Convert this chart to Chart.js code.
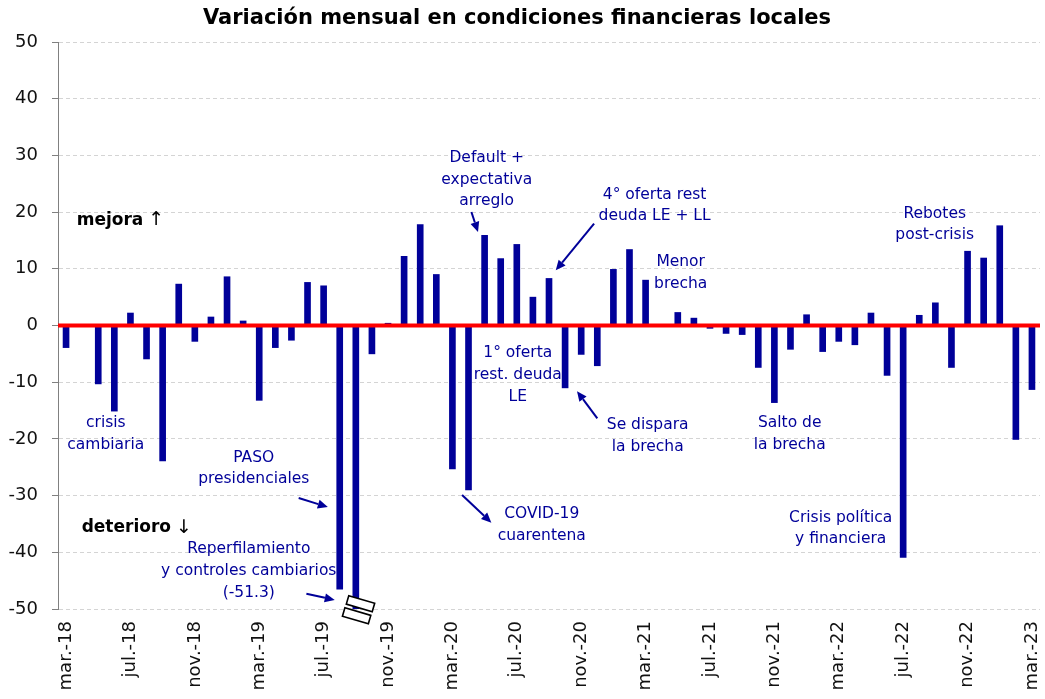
<!DOCTYPE html>
<html><head><meta charset="utf-8">
<script src="https://cdn.jsdelivr.net/npm/chart.js@4.4.0/dist/chart.umd.min.js"></script>
<style>html,body{margin:0;padding:0;background:#fff;}#wrap{width:1045px;height:699px;position:relative;}</style>
</head><body><div id="wrap"><canvas id="c"></canvas></div>
<script>
const months = [
 'mar.-18','abr.-18','may.-18','jun.-18','jul.-18','ago.-18','sep.-18','oct.-18','nov.-18','dic.-18',
 'ene.-19','feb.-19','mar.-19','abr.-19','may.-19','jun.-19','jul.-19','ago.-19','sep.-19','oct.-19','nov.-19','dic.-19',
 'ene.-20','feb.-20','mar.-20','abr.-20','may.-20','jun.-20','jul.-20','ago.-20','sep.-20','oct.-20','nov.-20','dic.-20',
 'ene.-21','feb.-21','mar.-21','abr.-21','may.-21','jun.-21','jul.-21','ago.-21','sep.-21','oct.-21','nov.-21','dic.-21',
 'ene.-22','feb.-22','mar.-22','abr.-22','may.-22','jun.-22','jul.-22','ago.-22','sep.-22','oct.-22','nov.-22','dic.-22',
 'ene.-23','feb.-23','mar.-23'
];
const values = [
 -3.9, 0, -10.3, -15.1, 2.2, -5.9, -23.9, 7.3, -2.8, 1.5,
 8.6, 0.8, -13.2, -3.9, -2.6, 7.6, 7.0, -46.5, -51.3, -5.0, 0.4, 12.2,
 17.8, 9.0, -25.3, -29.0, 15.9, 11.8, 14.3, 5.0, 8.3, -11.0, -5.1, -7.1,
 9.9, 13.4, 8.0, 0, 2.3, 1.3, -0.5, -1.4, -1.6, -7.4, -13.6, -4.2,
 1.9, -4.6, -2.8, -3.4, 2.2, -8.8, -40.9, 1.8, 4.0, -7.4, 13.1, 11.9,
 17.6, -20.1, -11.3
];
const yMin = -50, yMax = 50, yStep = 10;
const titleText = 'Variación mensual en condiciones financieras locales';

// annotation texts, anchored in (category index, value) units
const notes = [
  {lines:['crisis','cambiaria'], at:[2.47,-17.2]},
  {lines:['PASO','presidenciales'], at:[11.66,-23.3]},
  {lines:['Reperfilamiento','y controles cambiarios','(-51.3)'], at:[11.35,-39.5]},
  {lines:['Default +','expectativa','arreglo'], at:[26.13,29.5]},
  {lines:['4° oferta rest','deuda LE + LL'], at:[36.56,23.1]},
  {lines:['Menor','brecha'], at:[38.18,11.2]},
  {lines:['Rebotes','post-crisis'], at:[53.96,19.7]},
  {lines:['1° oferta','rest. deuda','LE'], at:[28.06,-4.93]},
  {lines:['Se dispara','la brecha'], at:[36.13,-17.57]},
  {lines:['COVID-19','cuarentena'], at:[29.55,-33.25]},
  {lines:['Salto de','la brecha'], at:[44.95,-17.27]},
  {lines:['Crisis política','y financiera'], at:[48.12,-33.9]}
];
const arrows = [
  {from:[14.45,-30.43], to:[16.26,-32.02]},
  {from:[14.93,-47.3], to:[16.69,-48.4]},
  {from:[25.18,20.02], to:[25.59,16.49]},
  {from:[32.8,17.97], to:[30.42,9.74]},
  {from:[33.0,-16.39], to:[31.74,-11.58]},
  {from:[24.6,-29.9], to:[26.42,-34.78]}
];
const sideLabels = [
  {bold:'mejora', arrow:'↑', at:[0.66,18.55]},
  {bold:'deterioro', arrow:'↓', at:[0.97,-35.7]}
];
const breakMarks = [[18.29,-49.06],[18.05,-51.2]];

const NAVY = '#000099';
const FONT = 'DejaVu Sans';

const overlay = {
  id:'overlay',
  afterDatasetsDraw(chart){
    const {ctx, chartArea:a, scales:{y}} = chart;
    const y0 = y.getPixelForValue(0);
    ctx.save();
    ctx.strokeStyle = '#ff0000'; ctx.lineWidth = 4;
    ctx.beginPath(); ctx.moveTo(a.left, y0); ctx.lineTo(a.right, y0); ctx.stroke();
    ctx.restore();
  },
  afterDraw(chart){
    const {ctx, scales:{x,y}} = chart;
    const px = p => [x.getPixelForValue(p[0]), y.getPixelForValue(p[1])];
    ctx.save();
    // title
    ctx.fillStyle = '#000';
    ctx.font = 'bold 21px ' + FONT;
    ctx.textAlign = 'center'; ctx.textBaseline = 'middle';
    ctx.fillText(titleText, 517, 19);
    // notes
    ctx.fillStyle = NAVY;
    ctx.font = '15.5px ' + FONT;
    notes.forEach(n => {
      const [cx, cy] = px(n.at);
      n.lines.forEach((l, i) => ctx.fillText(l, cx, cy + i*21.6));
    });
    // side labels
    sideLabels.forEach(s => {
      const [lx, ly] = px(s.at);
      ctx.textAlign = 'left';
      ctx.fillStyle = '#000';
      ctx.font = 'bold 17px ' + FONT;
      ctx.fillText(s.bold, lx, ly);
      const w = ctx.measureText(s.bold).width;
      ctx.font = '19px ' + FONT;
      ctx.fillText(s.arrow, lx + w + 5, ly);
    });
    // arrows
    ctx.strokeStyle = NAVY; ctx.fillStyle = NAVY; ctx.lineWidth = 2;
    arrows.forEach(ar => {
      const [x1, y1] = px(ar.from), [x2, y2] = px(ar.to);
      const ang = Math.atan2(y2 - y1, x2 - x1);
      const hl = 10, hw = 4.5;
      const bx = x2 - hl*Math.cos(ang), by = y2 - hl*Math.sin(ang);
      ctx.beginPath(); ctx.moveTo(x1, y1); ctx.lineTo(bx, by); ctx.stroke();
      ctx.beginPath();
      ctx.moveTo(x2, y2);
      ctx.lineTo(bx + hw*Math.sin(ang), by - hw*Math.cos(ang));
      ctx.lineTo(bx - hw*Math.sin(ang), by + hw*Math.cos(ang));
      ctx.closePath(); ctx.fill();
    });
    // axis break symbol
    ctx.strokeStyle = '#000'; ctx.fillStyle = '#fff'; ctx.lineWidth = 1.6;
    breakMarks.forEach(b => {
      const [cx, cy] = px(b);
      ctx.save();
      ctx.translate(cx, cy); ctx.rotate(16.3*Math.PI/180);
      ctx.beginPath(); ctx.rect(-13.5, -4.4, 27, 8.8);
      ctx.fill(); ctx.stroke();
      ctx.restore();
    });
    ctx.restore();
  }
};

new Chart(document.getElementById('c'), {
  type:'bar',
  data:{labels:months, datasets:[{data:values, backgroundColor:NAVY, barThickness:6, borderWidth:0}]},
  options:{
    responsive:true, maintainAspectRatio:false, animation:false,
    layout:{padding:{top:42, right:5, bottom:0, left:0}},
    plugins:{legend:{display:false}, tooltip:{enabled:false}, title:{display:false}},
    scales:{
      x:{
        grid:{display:false, drawTicks:false}, border:{display:false},
        ticks:{autoSkip:false, maxRotation:90, minRotation:90, padding:12, color:'#111',
               font:{family:FONT, size:18}, callback:(v,i)=> i%4===0 ? months[i] : ''},
        afterFit:s=>{s.height=90; s.paddingLeft=0; s.paddingRight=0;}
      },
      y:{
        min:yMin, max:yMax,
        ticks:{stepSize:yStep, color:'#111', font:{family:FONT, size:18}, padding:14},
        grid:{color:'#d4d4d4', lineWidth:1, tickLength:6, tickColor:'#808080', tickBorderDash:[]},
        border:{color:'#808080', width:1, dash:[4,3]},
        afterFit:s=>{s.width=58; s.paddingTop=0; s.paddingBottom=0;}
      }
    }
  },
  plugins:[overlay]
});
</script></body></html>
